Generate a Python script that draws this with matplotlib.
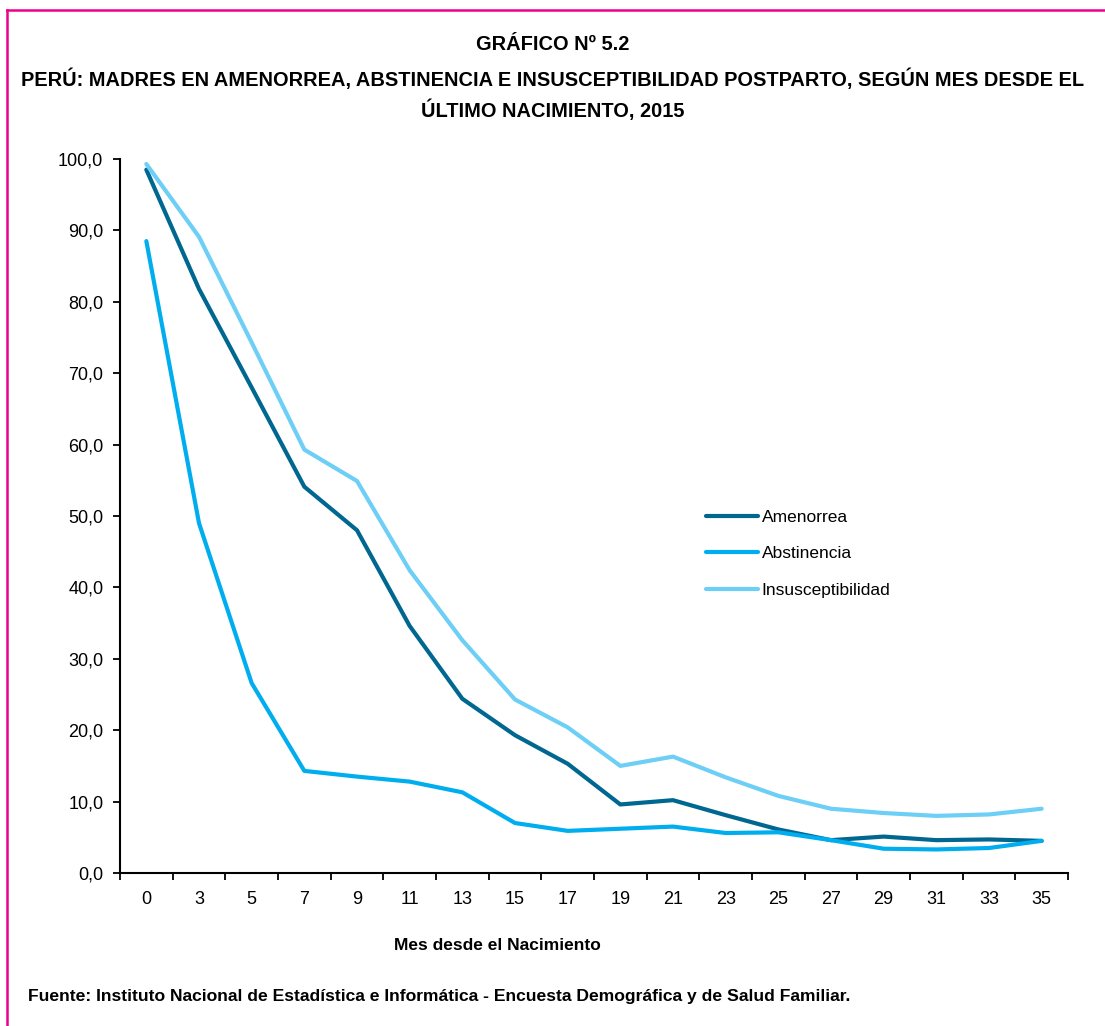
import matplotlib
matplotlib.use("Agg")
import matplotlib.pyplot as plt
from matplotlib.lines import Line2D
from matplotlib.ticker import FuncFormatter, FixedLocator

plt.rcParams['font.family'] = ['Liberation Sans Narrow', 'Liberation Sans', 'DejaVu Sans']

meses = ["0", "3", "5", "7", "9", "11", "13", "15", "17", "19",
         "21", "23", "25", "27", "29", "31", "33", "35"]

amenorrea = [98.5, 81.8, 68.0, 54.1, 48.0, 34.6, 24.4, 19.3, 15.3, 9.6,
             10.2, 8.1, 6.1, 4.6, 5.1, 4.6, 4.7, 4.5]
abstinencia = [88.5, 49.0, 26.6, 14.3, 13.5, 12.8, 11.3, 7.0, 5.9, 6.2,
               6.5, 5.6, 5.7, 4.6, 3.4, 3.3, 3.5, 4.5]
insusceptibilidad = [99.3, 89.1, 74.3, 59.3, 54.9, 42.4, 32.6, 24.3, 20.4, 15.0,
                     16.3, 13.4, 10.8, 9.0, 8.4, 8.0, 8.2, 9.0]

series = [
    ("Amenorrea", amenorrea, "#006890"),
    ("Abstinencia", abstinencia, "#00AEEF"),
    ("Insusceptibilidad", insusceptibilidad, "#6DCFF6"),
]

W, H = 1105, 1026
fig = plt.figure(figsize=(W / 100, H / 100), dpi=100)
ax = fig.add_axes([120 / W, 1 - 873 / H, (1068 - 120) / W, (873 - 159) / H])

xs = list(range(len(meses)))
for name, vals, col in series:
    ax.plot(xs, vals, color=col, lw=3.0, label=name, solid_capstyle="round")

ax.set_xlim(-0.5, len(meses) - 0.5)
ax.set_ylim(0, 100)
ax.set_yticks(range(0, 101, 10))
ax.yaxis.set_major_formatter(FuncFormatter(lambda v, p: f"{v:.1f}".replace(".", ",")))
ax.set_xticks(xs)
ax.set_xticklabels(meses)
ax.xaxis.set_minor_locator(FixedLocator([i - 0.5 for i in range(len(meses) + 1)]))
ax.tick_params(axis="x", which="major", length=0, pad=13, labelsize=13)
ax.tick_params(axis="x", which="minor", length=5, width=1.3, direction="out")
ax.tick_params(axis="y", length=5, width=1.3, pad=7, labelsize=13)
for s in ["top", "right"]:
    ax.spines[s].set_visible(False)
for s in ["left", "bottom"]:
    ax.spines[s].set_linewidth(1.5)

ax.legend(loc="upper left", bbox_to_anchor=((706 - 120) / 948, (873 - 510) / 714),
          frameon=False, fontsize=12.5, handlelength=3.0, handletextpad=0.2,
          labelspacing=1.22, borderpad=0, borderaxespad=0)

fig.text(0.5, 1 - 45 / H, "GRÁFICO Nº 5.2", ha="center", va="center",
         fontsize=14.4, fontweight="bold")
fig.text(0.5, 1 - 79 / H,
         "PERÚ: MADRES EN AMENORREA, ABSTINENCIA E INSUSCEPTIBILIDAD POSTPARTO, SEGÚN MES DESDE EL",
         ha="center", va="center", fontsize=14.4, fontweight="bold")
fig.text(0.5, 1 - 110 / H, "ÚLTIMO NACIMIENTO, 2015", ha="center", va="center",
         fontsize=14.4, fontweight="bold")
fig.text(497 / W, 1 - 945 / H, "Mes desde el Nacimiento", ha="center", va="center",
         fontsize=12.5, fontweight="bold")
fig.text(28 / W, 1 - 997 / H,
         "Fuente: Instituto Nacional de Estadística e Informática - Encuesta Demográfica y de Salud Familiar.",
         ha="left", va="center", fontsize=12.6, fontweight="bold")

# marco magenta (solo borde superior e izquierdo visibles)
fig.add_artist(Line2D([7 / W, 1], [1 - 10 / H, 1 - 10 / H], color="#EC008C", lw=1.8))
fig.add_artist(Line2D([7 / W, 7 / W], [0, 1 - 10 / H], color="#EC008C", lw=1.8))

fig.savefig("out.png", dpi=100)
